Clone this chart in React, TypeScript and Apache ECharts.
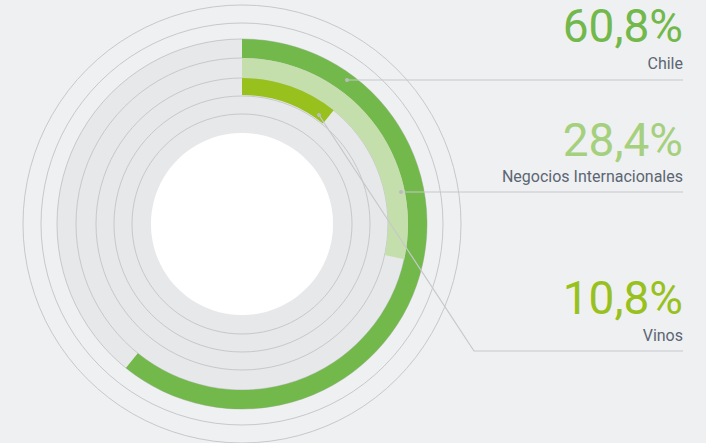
import React, { useEffect, useRef } from "react";
import * as echarts from "echarts";

const categories = ["Chile", "Negocios Internacionales", "Vinos"];
const values = [60.8, 28.4, 10.8];
const colors = ["#72b84b", "#c4dfab", "#98c11e"];
const labelColors = ["#72b84b", "#a5d07e", "#98c11e"];

const W = 706;
const H = 443;
const CX = 242;
const CY = 224;

export default function App() {
  const ref = useRef<HTMLDivElement>(null);
  useEffect(() => {
    document.body.style.margin = "0";
    const chart = echarts.init(ref.current!, null, { renderer: "svg" });
    const ringRadii = [
      [166, 185],
      [146, 166],
      [129, 146],
    ];
    const circleRadii = [110, 128, 146, 166, 185, 201, 219];
    const lineColor = "#c6c8cb";
    const fmt = (v: number) => v.toFixed(1).replace(".", ",") + "%";

    const series: any[] = values.map((v, i) => ({
      type: "pie",
      center: [CX, CY],
      radius: ringRadii[i],
      startAngle: 90,
      clockwise: true,
      silent: true,
      z: 3,
      label: { show: false },
      labelLine: { show: false },
      emphasis: { disabled: true },
      data: [
        { name: categories[i], value: v, itemStyle: { color: colors[i] } },
        { name: "rest", value: 100 - v, itemStyle: { color: "rgba(0,0,0,0)" } },
      ],
    }));

    const graphic: any[] = [];
    graphic.push({
      type: "ring",
      z: 0,
      shape: { cx: CX, cy: CY, r: 185, r0: 91 },
      style: { fill: "#e7e8ea" },
      silent: true,
    });
    graphic.push({
      type: "circle",
      z: 0,
      shape: { cx: CX, cy: CY, r: 91 },
      style: { fill: "#ffffff" },
      silent: true,
    });
    circleRadii.forEach((r) =>
      graphic.push({
        type: "circle",
        z: 1,
        shape: { cx: CX, cy: CY, r },
        style: { fill: "none", stroke: lineColor, lineWidth: 1 },
        silent: true,
      })
    );

    // leader lines
    const leaders = [
      { pts: [[347, 80], [683, 80]], dot: [347, 80] },
      { pts: [[401, 192], [683, 192]], dot: [401, 192] },
      { pts: [[319, 115], [474, 351], [683, 351]], dot: [319, 115] },
    ];
    leaders.forEach((l) => {
      graphic.push({
        type: "polyline",
        z: 10,
        shape: { points: l.pts },
        style: { fill: "none", stroke: lineColor, lineWidth: 1.2 },
        silent: true,
      });
      graphic.push({
        type: "circle",
        z: 10,
        shape: { cx: l.dot[0], cy: l.dot[1], r: 2 },
        style: { fill: "#b9bcbf" },
        silent: true,
      });
    });

    const textPos = [
      { big: 26, small: 63 },
      { big: 139.5, small: 176.5 },
      { big: 298, small: 335 },
    ];
    values.forEach((v, i) => {
      graphic.push({
        type: "text",
        z: 10,
        style: {
          text: fmt(v),
          x: 683,
          y: textPos[i].big,
          align: "right",
          verticalAlign: "middle",
          fill: labelColors[i],
          font: "46px Roboto",
        },
        silent: true,
      });
      graphic.push({
        type: "text",
        z: 10,
        style: {
          text: categories[i],
          x: 683,
          y: textPos[i].small,
          align: "right",
          verticalAlign: "middle",
          fill: "#5b6672",
          font: "16px Roboto",
        },
        silent: true,
      });
    });

    chart.setOption({
      animation: false,
      backgroundColor: "#eff0f2",
      series,
      graphic: { elements: graphic },
    });
    return () => chart.dispose();
  }, []);
  return <div ref={ref} style={{ width: W, height: H }} />;
}
